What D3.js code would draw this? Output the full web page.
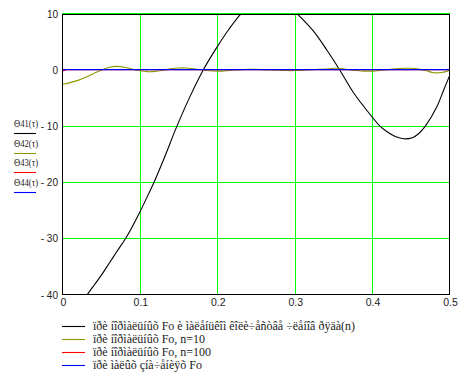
<!DOCTYPE html>
<html><head><meta charset="utf-8">
<script src="https://cdn.jsdelivr.net/npm/d3@7/dist/d3.min.js"></script>
<style>body{margin:0;background:#fff}svg{display:block}</style>
</head><body>
<svg id="c" width="473" height="384"></svg>
<script>
// ---- data ----
const xTicks = [0, 0.1, 0.2, 0.3, 0.4, 0.5];
const xTickLabels = ["0", "0.1", "0.2", "0.3", "0.4", "0.5"];
const yTicks = [10, 0, -10, -20, -30, -40];
const yTickLabels = ["10", "0", "- 10", "- 20", "- 30", "- 40"];

const blackX = [0, 0.02, 0.032, 0.039, 0.05, 0.061, 0.07, 0.0825, 0.1, 0.1136, 0.118, 0.13, 0.148, 0.165, 0.182, 0.2, 0.215, 0.231, 0.25, 0.267, 0.285, 0.3027, 0.324, 0.3415, 0.358, 0.376, 0.4, 0.4085, 0.419, 0.43, 0.441, 0.452, 0.46, 0.469, 0.484, 0.4925, 0.5];
const blackY = [-46, -42.4, -40, -38.7, -36.6, -34.3, -32.4, -29.8, -25.3, -21.4, -20.1, -16.2, -10, -4.7, 0, 4.1, 7.2, 10, 12.3, 12.9, 12.2, 10, 6.9, 3.5, 0, -4.1, -8.4, -9.8, -11.0, -11.9, -12.3, -12.1, -11.4, -10, -6.5, -3.6, -1.1];

const oliveX = [0, 0.01, 0.02, 0.03, 0.04, 0.05, 0.06, 0.07, 0.08, 0.09, 0.1, 0.11, 0.12, 0.13, 0.14, 0.15, 0.16, 0.17, 0.18, 0.19, 0.2, 0.21, 0.22, 0.23, 0.24, 0.25, 0.26, 0.27, 0.28, 0.29, 0.3, 0.31, 0.32, 0.33, 0.34, 0.35, 0.36, 0.37, 0.38, 0.39, 0.4, 0.41, 0.42, 0.43, 0.44, 0.45, 0.46, 0.47, 0.48, 0.49, 0.5];
const oliveY = [-2.6, -2.3, -1.9, -1.35, -0.7, -0.1, 0.4, 0.6, 0.45, 0.1, -0.2, -0.35, -0.3, -0.1, 0.15, 0.3, 0.3, 0.15, -0.05, -0.2, -0.25, -0.2, -0.1, 0.0, 0.05, 0.05, 0.0, -0.05, -0.1, -0.15, -0.15, -0.1, 0.0, 0.05, 0.1, 0.25, 0.2, 0.0, -0.15, -0.25, -0.25, -0.15, 0.0, 0.15, 0.25, 0.25, 0.1, -0.2, -0.55, -0.5, -0.15];

const redX = [0, 0.005, 0.1, 0.2, 0.3, 0.4, 0.5];
const redY = [-0.25, 0, 0, 0, 0, 0, 0];

const blueX = [0, 0.5];
const blueY = [0, 0];

const sideLabels = ["Θ41(τ)", "Θ42(τ)", "Θ43(τ)", "Θ44(τ)"];
const legendLabels = [
  "ïðè íîðìàëüíûõ Fo è ìàëåíüêîì êîëè÷åñòâå ÷ëåíîâ ðÿäà(n)",
  "ïðè íîðìàëüíûõ Fo, n=10",
  "ïðè íîðìàëüíûõ Fo, n=100",
  "ïðè ìàëûõ çíà÷åíèÿõ Fo"
];
const seriesColors = ["#000000", "#8c9800", "#ff0000", "#0000ff"];

// ---- drawing ----
const svg = d3.select("#c");
const x = d3.scaleLinear().domain([0, 0.5]).range([62.5, 449.5]);
const y = d3.scaleLinear().domain([-40, 10]).range([294.5, 13.5]);
const grid = "#00ff00";

svg.append("defs").append("clipPath").attr("id", "clip")
  .append("rect").attr("x", 63).attr("y", 14.5).attr("width", 386).attr("height", 280);

// grid (as 1px filled rects)
const gx = [0.1, 0.2, 0.3, 0.4];
svg.selectAll(".gv").data(gx).enter().append("rect")
  .attr("x", d => Math.round(x(d))).attr("width", 1)
  .attr("y", 14).attr("height", 280).attr("fill", grid);
const gy = [-10, -20, -30];
svg.selectAll(".gh").data(gy).enter().append("rect")
  .attr("y", d => Math.round(y(d))).attr("height", 1)
  .attr("x", 63).attr("width", 386).attr("fill", grid);
svg.append("rect").attr("x", 62).attr("width", 388).attr("y", 13).attr("height", 1)
  .attr("fill", grid);

// frame
svg.append("rect").attr("x", 62.5).attr("y", 14.5).attr("width", 387).attr("height", 280)
  .attr("fill", "none").attr("stroke", "#000").attr("stroke-width", 1)
  .attr("shape-rendering", "crispEdges");

// series
const series = [[blackX, blackY], [oliveX, oliveY], [redX, redY], [blueX, blueY]];
const g = svg.append("g").attr("clip-path", "url(#clip)");
series.forEach((s, i) => {
  const pts = s[0].map((v, j) => [v, s[1][j]]);
  const line = d3.line().x(d => x(d[0])).y(d => y(d[1]))
    .curve(i <= 1 ? d3.curveCatmullRom.alpha(0.5) : d3.curveLinear);
  g.append("path").datum(pts)
    .attr("d", line)
    .attr("fill", "none").attr("stroke", seriesColors[i])
    .attr("stroke-width", i === 3 ? 1.3 : 1.1);
});

// y tick labels
svg.selectAll(".yt").data(yTicks).enter().append("text")
  .attr("x", 58).attr("y", d => y(d) + 4)
  .attr("text-anchor", "end").attr("font-family", "Liberation Sans, Arial, sans-serif")
  .attr("font-size", 10).attr("fill", "#222")
  .text((d, i) => yTickLabels[i]);

// x tick labels
svg.selectAll(".xt").data(xTicks).enter().append("text")
  .attr("x", d => x(d) + 1).attr("y", 306)
  .attr("text-anchor", "middle").attr("font-family", "Liberation Sans, Arial, sans-serif")
  .attr("font-size", 10.5).attr("fill", "#222")
  .text((d, i) => xTickLabels[i]);

// side labels
sideLabels.forEach((t, i) => {
  const by = 127 + i * 19.6;
  svg.append("text").attr("x", 14).attr("y", by)
    .attr("font-family", "Liberation Serif, Times New Roman, serif")
    .attr("font-size", 10).attr("fill", "#222")
    .attr("textLength", 24).attr("lengthAdjust", "spacingAndGlyphs").text(t);
  svg.append("line").attr("x1", 14).attr("x2", 36)
    .attr("y1", Math.round(by + 6) + 0.5).attr("y2", Math.round(by + 6) + 0.5)
    .attr("stroke", seriesColors[i]).attr("stroke-width", 1.1);
});

// bottom legend
legendLabels.forEach((t, i) => {
  const ly = 325.5 + i * 13.3;
  svg.append("line").attr("x1", 62).attr("x2", 85)
    .attr("y1", Math.round(ly) + 0.5).attr("y2", Math.round(ly) + 0.5)
    .attr("stroke", seriesColors[i]).attr("stroke-width", 1.1);
  svg.append("text").attr("x", 93).attr("y", ly + 4)
    .attr("font-family", "Liberation Serif, Times New Roman, serif")
    .attr("font-size", 12).attr("fill", "#222").text(t);
});
</script>
</body></html>
